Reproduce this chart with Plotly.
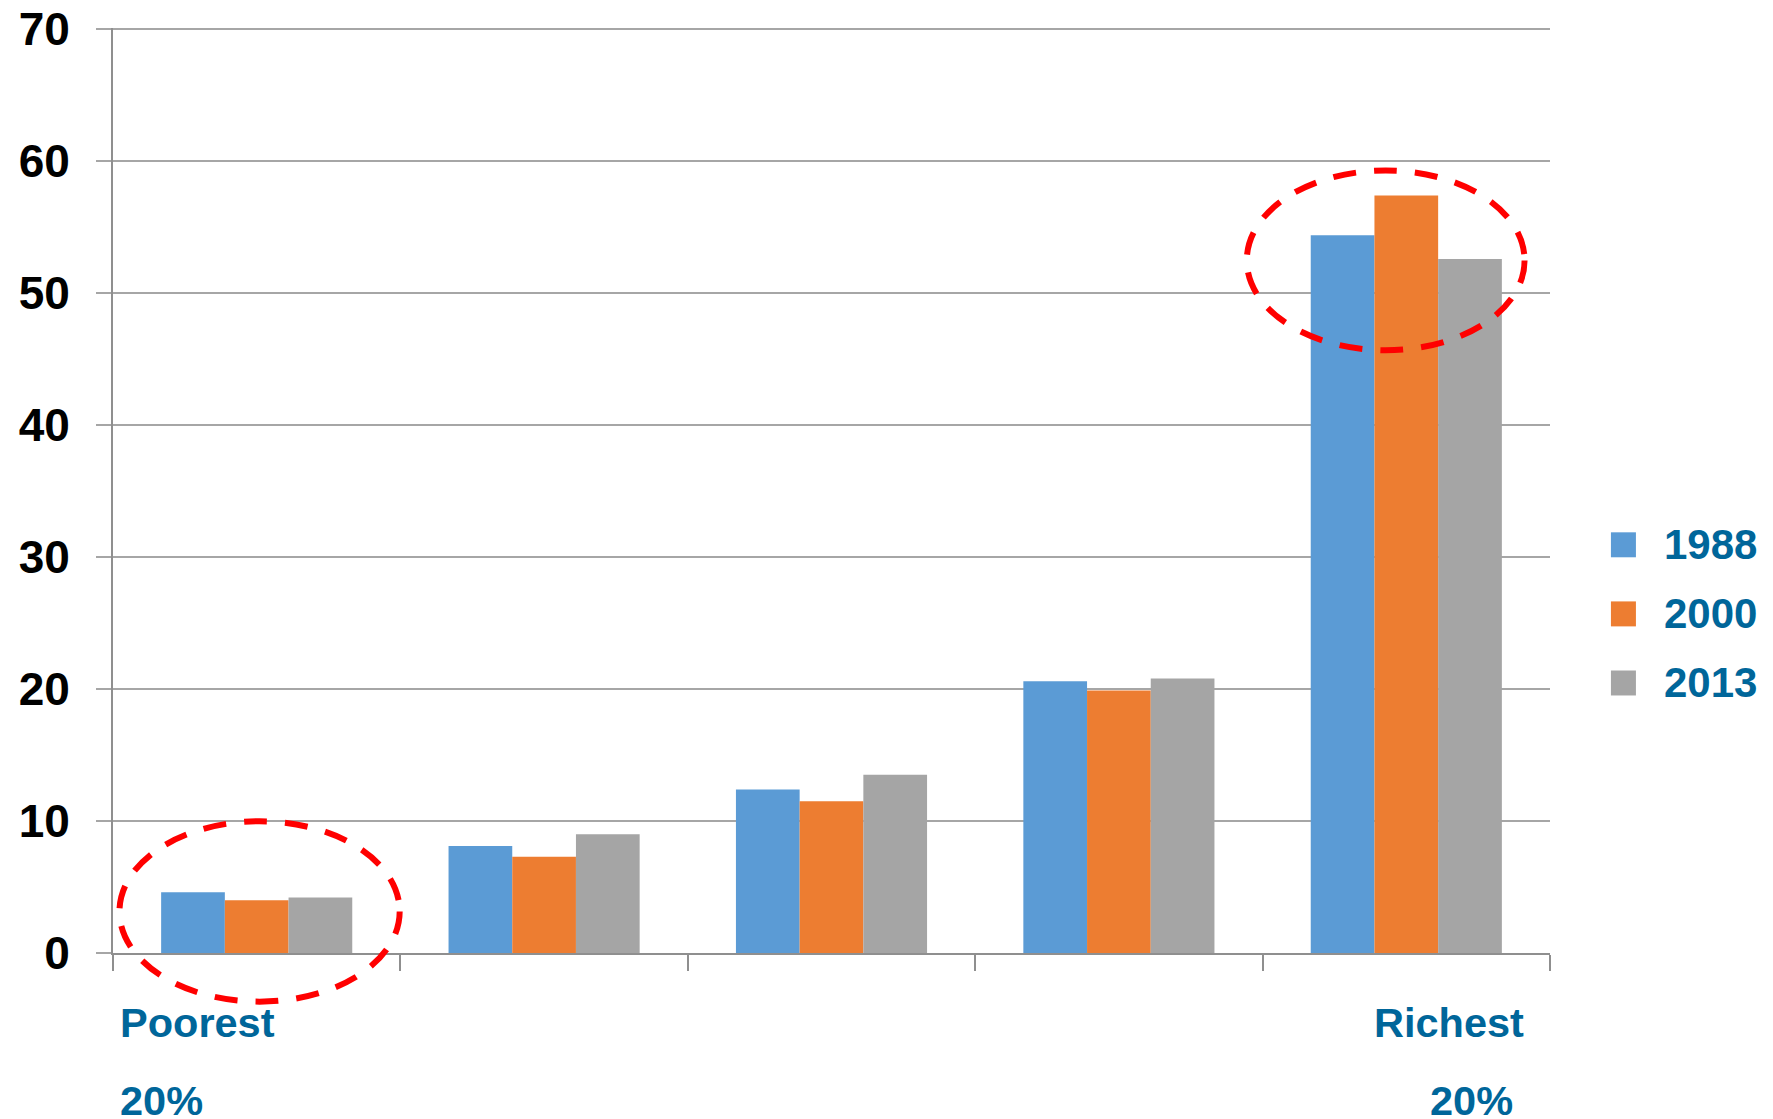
import plotly.graph_objects as go

# ---- data ----
categories = ["Poorest 20%", "Second 20%", "Middle 20%", "Fourth 20%", "Richest 20%"]
years = ["1988", "2000", "2013"]
values_1988 = [4.6, 8.1, 12.4, 20.6, 54.4]
values_2000 = [4.0, 7.3, 11.5, 19.9, 57.4]
values_2013 = [4.2, 9.0, 13.5, 20.8, 52.6]
colors = ["#5b9bd5", "#ed7d31", "#a5a5a5"]
y_ticks = [0, 10, 20, 30, 40, 50, 60, 70]

series = [values_1988, values_2000, values_2013]

TXT_BLUE = "#00669a"
GRID = "#a6a6a6"
AXIS = "#8f8f8f"
FONT = "Liberation Sans, Arial, sans-serif"

fig = go.Figure()
for name, vals, col in zip(years, series, colors):
    fig.add_trace(go.Bar(x=categories, y=vals, name=name,
                         marker=dict(color=col, line=dict(width=0)),
                         showlegend=False))

# the page body has an 8px margin, so the figure is 8px smaller and shifted
fig.update_layout(
    width=1765, height=1111, autosize=False,
    margin=dict(l=105, r=223, t=20, b=166, pad=0),
    paper_bgcolor="white", plot_bgcolor="white",
    barmode="group", bargap=0.335, bargroupgap=0,
    font=dict(family=FONT),
    showlegend=False,
)
fig.update_xaxes(
    type="category", showticklabels=False, automargin=False,
    showline=True, linecolor=AXIS, linewidth=2,
    ticks="outside", tickson="boundaries", ticklen=16,
    tickcolor=AXIS, tickwidth=1.5, showgrid=False,
)
fig.update_yaxes(
    range=[0, 70.1], tickvals=y_ticks, ticktext=[str(v) for v in y_ticks],
    automargin=False, ticklabeloverflow="allow",
    showline=True, linecolor=AXIS, linewidth=2,
    showgrid=True, gridcolor=GRID, gridwidth=1.5,
    ticks="outside", ticklen=15, tickcolor=GRID, tickwidth=1.5,
    tickfont=dict(family=FONT, size=46, color="black", weight="bold"),
    ticklabelstandoff=17, zeroline=False,
)

# category captions (text boxes under the axis)
captions = [
    ("Poorest", 0.0036, -0.0751),
    ("20%", 0.0036, -0.1590),
    ("Richest", 0.8759, -0.0751),
    ("20%", 0.9151, -0.1590),
]
for text, xp, yp in captions:
    fig.add_annotation(text=text, xref="paper", yref="paper", x=xp, y=yp,
                       xanchor="left", yanchor="middle", showarrow=False,
                       font=dict(family=FONT, size=41.5, color=TXT_BLUE, weight="bold"))

# manual legend (larger swatches than plotly's fixed legend icon)
legend_rows_y = [0.4413, 0.3666, 0.2919]
for name, col, yc in zip(years, colors, legend_rows_y):
    fig.add_shape(type="rect", xref="paper", yref="paper",
                  x0=1.0424, x1=1.0598, y0=yc - 0.0135, y1=yc + 0.0135,
                  fillcolor=col, line=dict(width=0))
    fig.add_annotation(text=name, xref="paper", yref="paper", x=1.0782, y=yc,
                       xanchor="left", yanchor="middle", showarrow=False,
                       font=dict(family=FONT, size=42, color=TXT_BLUE, weight="bold"))

# dashed red highlight ellipses
ellipses = [(0.0045, 0.1995, -0.0526, 0.1424), (0.789, 0.9823, 0.6516, 0.8459)]
for x0, x1, y0, y1 in ellipses:
    fig.add_shape(type="circle", xref="paper", yref="paper",
                  x0=x0, x1=x1, y0=y0, y1=y1, layer="above",
                  line=dict(color="#ff0000", width=6, dash="23px,18px"))

fig.write_html("out.html")
